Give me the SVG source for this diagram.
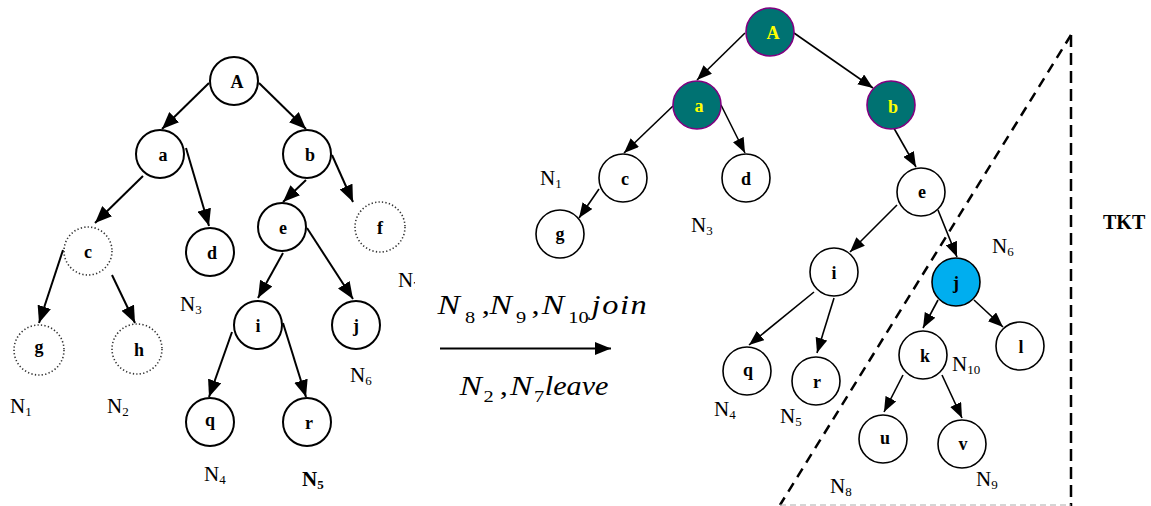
<svg xmlns="http://www.w3.org/2000/svg" width="1151" height="506" viewBox="0 0 1151 506">
<style>
.n{fill:#fff;stroke:#000;stroke-width:2}
.nr{fill:#fff;stroke:#000;stroke-width:1.6}
.dot{fill:#fff;stroke:#333;stroke-width:1.6;stroke-dasharray:1.3 2.2}
.hl{fill:#007272;stroke:#800080;stroke-width:1.6}
.blue{fill:#00AEEF;stroke:#000;stroke-width:1.6}
.t{font-family:"Liberation Serif","Times New Roman",serif;font-weight:bold;font-size:18px;text-anchor:middle;fill:#000}
.ty{fill:#ffff00}
.lab{font-family:"Liberation Serif","Times New Roman",serif;font-size:21px;fill:#000}
.sub{font-size:13px}
.e1{stroke:#000;stroke-width:2;fill:none;marker-end:url(#ah1)}
.e2{stroke:#000;stroke-width:1.6;fill:none;marker-end:url(#ah2)}
.math{font-family:"Liberation Serif","Times New Roman",serif;font-size:27px;fill:#000}
.mi{font-style:italic}
.mN{font-style:italic;font-size:28px}
.ms{font-size:17px}
.dash{stroke:#000;stroke-width:2.5;fill:none}
</style>
<defs>
<marker id="ah1" markerUnits="userSpaceOnUse" markerWidth="17" markerHeight="14" refX="17" refY="7" orient="auto"><path d="M0,0 L17,7 L0,14 z" fill="#000"/></marker>
<marker id="ah2" markerUnits="userSpaceOnUse" markerWidth="15" markerHeight="12" refX="15" refY="6" orient="auto"><path d="M0,0 L15,6 L0,12 z" fill="#000"/></marker>
<marker id="ah3" markerUnits="userSpaceOnUse" markerWidth="16" markerHeight="13" refX="16" refY="6.5" orient="auto"><path d="M0,0 L16,6.5 L0,13 z" fill="#000"/></marker>
<clipPath id="clipN7"><rect x="380" y="260" width="35" height="40"/></clipPath>
</defs>

<!-- connectors -->
<g id="connectors">
  <!-- left tree -->
  <line class="e1" x1="209" y1="83" x2="162" y2="129"/>
  <line class="e1" x1="259" y1="83" x2="306" y2="129"/>
  <line class="e1" x1="143" y1="176" x2="95" y2="223"/>
  <line class="e1" x1="186" y1="148" x2="209" y2="226"/>
  <line class="e1" x1="306" y1="180" x2="283" y2="202"/>
  <line class="e1" x1="332" y1="155" x2="353" y2="202"/>
  <line class="e1" x1="283" y1="253" x2="258" y2="298"/>
  <line class="e1" x1="307" y1="228" x2="353" y2="299"/>
  <line class="e1" x1="63" y1="250" x2="39" y2="323"/>
  <line class="e1" x1="112" y1="275" x2="135" y2="323"/>
  <line class="e1" x1="232" y1="332" x2="209" y2="397"/>
  <line class="e1" x1="283" y1="323" x2="306" y2="397"/>
  <!-- transition arrow -->
  <line x1="440" y1="348.5" x2="611" y2="348.5" stroke="#000" stroke-width="2" marker-end="url(#ah3)"/>
  <!-- right tree -->
  <line class="e2" x1="745" y1="33" x2="697" y2="80"/>
  <line class="e2" x1="794" y1="33" x2="873" y2="88"/>
  <line class="e2" x1="673" y1="106" x2="624" y2="153"/>
  <line class="e2" x1="721" y1="105" x2="745" y2="153"/>
  <line class="e2" x1="599" y1="189" x2="579" y2="218"/>
  <line class="e2" x1="891" y1="123" x2="916" y2="167"/>
  <line class="e2" x1="897" y1="205" x2="850" y2="252"/>
  <line class="e2" x1="938" y1="210" x2="957" y2="257"/>
  <line class="e2" x1="814" y1="292" x2="749" y2="345"/>
  <line class="e2" x1="834" y1="298" x2="817" y2="353"/>
  <line class="e2" x1="938" y1="300" x2="923" y2="328"/>
  <line class="e2" x1="974" y1="300" x2="1003" y2="327"/>
  <line class="e2" x1="903" y1="375" x2="884" y2="412"/>
  <line class="e2" x1="942" y1="375" x2="962" y2="418"/>
</g>

<!-- TKT region boundary -->
<g id="tkt-boundary">
  <line class="dash" x1="1071" y1="35" x2="780" y2="505" stroke-dasharray="10 7"/>
  <line class="dash" x1="1071" y1="35" x2="1071" y2="506" stroke-dasharray="12 6"/>
  <line x1="780" y1="505" x2="1071" y2="505" stroke="#aaa" stroke-width="1" stroke-dasharray="6 4"/>
</g>

<!-- left tree nodes -->
<g id="L-A"><circle class="n" cx="234" cy="81" r="24"/><text class="t" x="237" y="88">A</text></g>
<g id="L-a"><circle class="n" cx="160" cy="154" r="24"/><text class="t" x="163" y="161">a</text></g>
<g id="L-b"><circle class="n" cx="307" cy="154" r="24"/><text class="t" x="310" y="161">b</text></g>
<g id="L-c"><circle class="dot" cx="88" cy="251" r="24"/><text class="t" x="88" y="258">c</text></g>
<g id="L-d"><circle class="n" cx="210" cy="252" r="24"/><text class="t" x="212" y="259">d</text></g>
<g id="L-e"><circle class="n" cx="282" cy="227" r="24"/><text class="t" x="283" y="234">e</text></g>
<g id="L-f"><circle class="dot" cx="380" cy="227" r="25"/><text class="t" x="380" y="234">f</text></g>
<g id="L-g"><circle class="dot" cx="39" cy="350" r="25"/><text class="t" x="39" y="353" font-size="15">g</text></g>
<g id="L-h"><circle class="dot" cx="137" cy="349" r="25"/><text class="t" x="139" y="356">h</text></g>
<g id="L-i"><circle class="n" cx="258" cy="325" r="24"/><text class="t" x="258" y="332">i</text></g>
<g id="L-j"><circle class="n" cx="356" cy="325" r="24"/><text class="t" x="356" y="332">j</text></g>
<g id="L-q"><circle class="n" cx="210" cy="422" r="24"/><text class="t" x="210" y="426" font-size="15">q</text></g>
<g id="L-r"><circle class="n" cx="307" cy="422" r="24"/><text class="t" x="309" y="429">r</text></g>

<!-- left labels -->
<g id="left-labels">
  <text class="lab" x="10" y="413">N<tspan class="sub" dy="3">1</tspan></text>
  <text class="lab" x="107" y="413">N<tspan class="sub" dy="3">2</tspan></text>
  <text class="lab" x="180" y="311">N<tspan class="sub" dy="3">3</tspan></text>
  <text class="lab" x="204" y="481">N<tspan class="sub" dy="3">4</tspan></text>
  <text class="lab" x="302" y="486" font-weight="bold">N<tspan class="sub" dy="3">5</tspan></text>
  <text class="lab" x="350" y="382">N<tspan class="sub" dy="3">6</tspan></text>
  <text class="lab" x="398" y="287" clip-path="url(#clipN7)">N<tspan class="sub" dy="3">7</tspan></text>
</g>

<!-- transition text -->
<g id="transition" transform="matrix(1.2,0,0,1,0,0)">
  <text class="math" y="314"><tspan class="mN" x="364.5">N</tspan><tspan class="ms" x="387.5" y="323">8</tspan><tspan x="401.5" y="314">,</tspan><tspan class="mN" x="408">N</tspan><tspan class="ms" x="430" y="323">9</tspan><tspan x="443" y="314">,</tspan><tspan class="mN" x="451.5">N</tspan><tspan class="ms" x="473.5" y="323">10</tspan><tspan class="mi" x="493" y="314" textLength="46" lengthAdjust="spacing">join</tspan></text>
  <text class="math" y="395"><tspan class="mN" x="383">N</tspan><tspan class="ms" x="403" y="402">2</tspan><tspan x="416.5" y="395">,</tspan><tspan class="mN" x="425">N</tspan><tspan class="ms" x="445" y="402">7</tspan><tspan class="mi" x="454" y="395" textLength="53" lengthAdjust="spacingAndGlyphs">leave</tspan></text>
</g>

<!-- right tree nodes -->
<g id="R-A"><circle class="hl" cx="770" cy="32" r="24"/><text class="t ty" x="773" y="39">A</text></g>
<g id="R-a"><circle class="hl" cx="697" cy="105" r="24"/><text class="t ty" x="699" y="112">a</text></g>
<g id="R-b"><circle class="hl" cx="891" cy="105" r="24"/><text class="t ty" x="893" y="113">b</text></g>
<g id="R-c"><circle class="nr" cx="623" cy="178" r="24"/><text class="t" x="625" y="185">c</text></g>
<g id="R-d"><circle class="nr" cx="746" cy="178" r="24"/><text class="t" x="746" y="185">d</text></g>
<g id="R-g"><circle class="nr" cx="560" cy="234" r="24"/><text class="t" x="560" y="240" font-size="15">g</text></g>
<g id="R-e"><circle class="nr" cx="921" cy="192" r="24"/><text class="t" x="922" y="198" font-size="16">e</text></g>
<g id="R-i"><circle class="nr" cx="834" cy="272" r="24"/><text class="t" x="834" y="279">i</text></g>
<g id="R-j"><circle class="blue" cx="956" cy="282" r="24"/><text class="t" x="956" y="289">j</text></g>
<g id="R-q"><circle class="nr" cx="747" cy="371" r="24"/><text class="t" x="748" y="376" font-size="17">q</text></g>
<g id="R-r"><circle class="nr" cx="816" cy="381" r="24"/><text class="t" x="817" y="388">r</text></g>
<g id="R-k"><circle class="nr" cx="923" cy="355" r="24"/><text class="t" x="925" y="362">k</text></g>
<g id="R-l"><circle class="nr" cx="1020" cy="346" r="24"/><text class="t" x="1021" y="353">l</text></g>
<g id="R-u"><circle class="nr" cx="883" cy="439" r="24"/><text class="t" x="885" y="444" font-size="17">u</text></g>
<g id="R-v"><circle class="nr" cx="962" cy="444" r="24"/><text class="t" x="963" y="450" font-size="17">v</text></g>

<!-- right labels -->
<g id="right-labels">
  <text class="lab" x="540" y="185">N<tspan class="sub" dy="3">1</tspan></text>
  <text class="lab" x="691" y="232">N<tspan class="sub" dy="3">3</tspan></text>
  <text class="lab" x="714" y="416">N<tspan class="sub" dy="3">4</tspan></text>
  <text class="lab" x="780" y="423">N<tspan class="sub" dy="3">5</tspan></text>
  <text class="lab" x="992" y="253">N<tspan class="sub" dy="3">6</tspan></text>
  <text class="lab" x="830" y="493">N<tspan class="sub" dy="3">8</tspan></text>
  <text class="lab" x="976" y="486">N<tspan class="sub" dy="3">9</tspan></text>
  <text class="lab" x="952" y="371">N<tspan class="sub" dy="3">10</tspan></text>
  <text x="1103" y="229" font-family="'Liberation Serif','Times New Roman',serif" font-weight="bold" font-size="20">TKT</text>
</g>
</svg>
